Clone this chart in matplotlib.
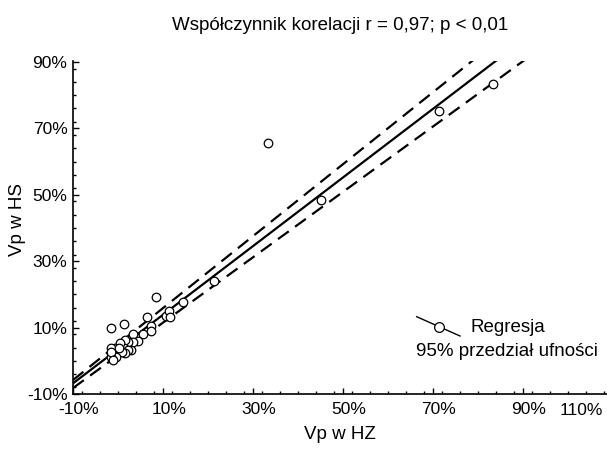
import matplotlib
matplotlib.use("Agg")
import matplotlib.pyplot as plt
from matplotlib.lines import Line2D
from matplotlib.ticker import MultipleLocator, FuncFormatter
from matplotlib.transforms import ScaledTranslation

plt.rcParams["font.family"] = ["Liberation Sans", "DejaVu Sans"]

# Vp in HZ (x) vs Vp in HS (y), percent
vp_hz = [-1.6, 1.3, 8.4, 6.5, 7.3, 7.4, 10.6, 11.3, 11.6, 14.4, 21.4,
         33.3, 45.1, 71.3, 83.4,
         5.5, 4.4, 3.3, 3.3, 2.2, 1.5, 1.3, 0.4, -0.7, -1.6, 3.0,
         2.3, 1.6, 1.0, -0.4, -1.6, -1.6, -1.1, 0.3]
vp_hs = [10.0, 11.2, 19.3, 13.1, 10.6, 9.1, 13.5, 15.0, 13.3, 17.8, 24.0,
         65.5, 48.3, 75.3, 83.5,
         8.2, 6.0, 8.1, 5.8, 5.8, 6.3, 3.8, 5.3, 4.0, 3.9, 3.4,
         3.3, 2.3, 2.7, 1.0, 1.2, 2.5, 0.2, 3.8]

# regression line and 95% confidence band
line_x = [-10, 100]
fit_y = [-6.8, 106.9]
ci_upper = [-5.8, 113.4]
ci_lower = [-8.2, 100.1]

x_ticks = [-10, 10, 30, 50, 70, 90]
y_ticks = [-10, 10, 30, 50, 70, 90]

fig = plt.figure(figsize=(6.07, 4.5), dpi=100)
ax = fig.add_axes([73 / 607, 56 / 450, 534 / 607, 333 / 450])

ax.plot(line_x, fit_y, color="black", linewidth=1.6, zorder=2)
for band in (ci_upper, ci_lower):
    ax.plot(line_x, band, color="black", linewidth=1.6,
            dashes=(6, 3.5), zorder=2)
ax.scatter(vp_hz, vp_hs, s=38, facecolor="white", edgecolor="black",
           linewidth=0.9, zorder=3)

ax.set_xlim(-10, 108.67)
ax.set_ylim(-10, 90.3)

pct = FuncFormatter(lambda v, _: f"{v:.0f}%")
ax.set_xticks(x_ticks)
ax.set_yticks(y_ticks)
ax.xaxis.set_major_formatter(pct)
ax.yaxis.set_major_formatter(pct)
ax.xaxis.set_minor_locator(MultipleLocator(4))
ax.yaxis.set_minor_locator(MultipleLocator(4))
ax.tick_params(which="both", direction="in", width=1, labelsize=12.5,
               colors="black")
ax.tick_params(which="major", length=4)
ax.tick_params(which="minor", length=2.5)
ax.tick_params(axis="x", pad=6)
ax.tick_params(axis="y", pad=4)
for lab in ax.get_xticklabels():
    lab.set_transform(lab.get_transform()
                      + ScaledTranslation(6 / 100, 0, fig.dpi_scale_trans))
ax.text(0.9925, -0.027, "110%", transform=ax.transAxes, ha="right", va="top",
        fontsize=12.5)

ax.spines["top"].set_visible(False)
ax.spines["right"].set_visible(False)
ax.spines["left"].set_linewidth(1.2)
ax.spines["bottom"].set_linewidth(1.2)

ax.set_xlabel("Vp w HZ", fontsize=13.5)
ax.xaxis.set_label_coords(0.5, -0.095)
ax.set_ylabel("Vp w HS", fontsize=13.5, va="center")
ax.yaxis.set_label_coords(-0.103, 0.523)

fig.text(340 / 607, 1 - 25 / 450, "Współczynnik korelacji r = 0,97; p < 0,01",
         ha="center", va="center", fontsize=13.5)

# legend drawn by hand: sloped line with a circle marker
fig.add_artist(Line2D([416.7 / 607, 460 / 607], [1 - 316.7 / 450, 1 - 336 / 450],
                      color="black", linewidth=1))
fig.add_artist(Line2D([439.3 / 607], [1 - 327.3 / 450], marker="o",
                      markersize=7, markerfacecolor="white",
                      markeredgecolor="black", markeredgewidth=0.9))
fig.text(470 / 607, 1 - 328 / 450, "Regresja", ha="left", va="center",
         fontsize=13.5)
fig.text(416 / 607, 1 - 352 / 450, "95% przedział ufności", ha="left",
         va="center", fontsize=13.5)

fig.savefig("out.png", dpi=100)
